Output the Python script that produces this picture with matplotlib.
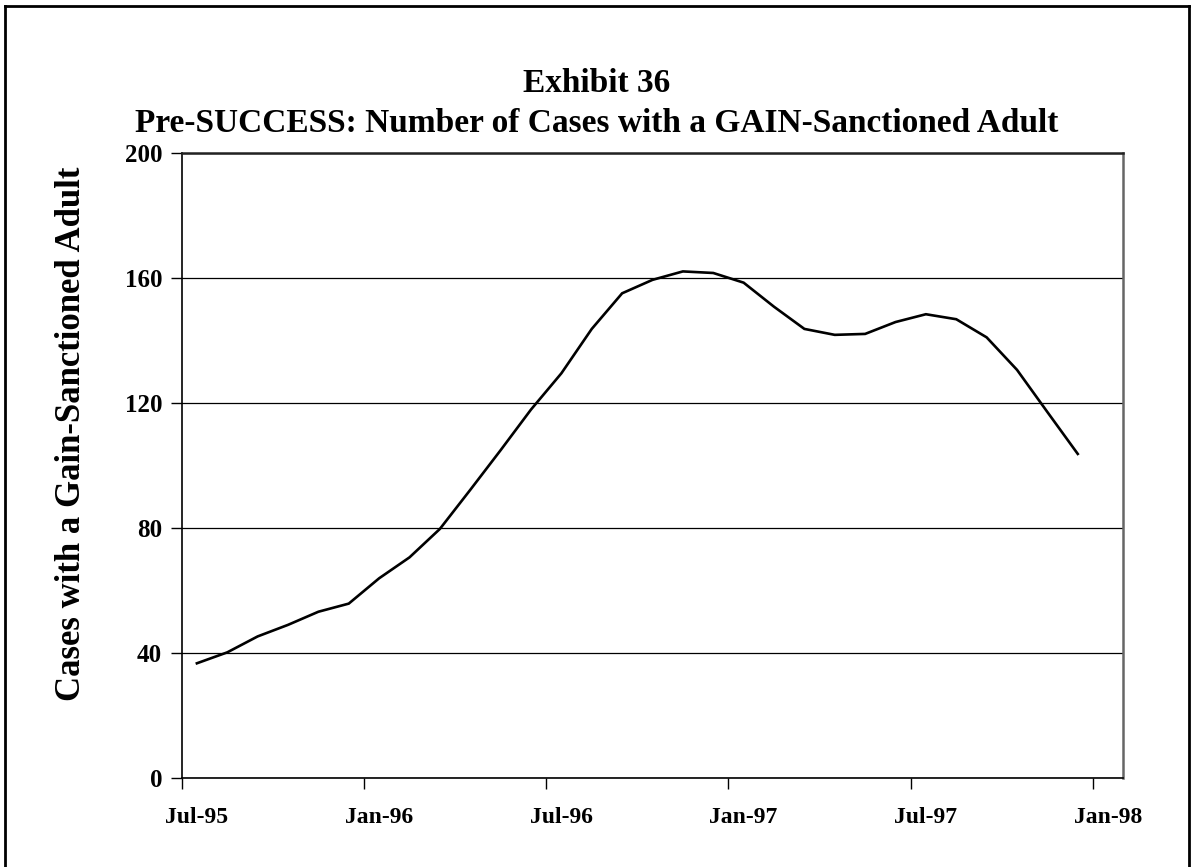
import matplotlib
matplotlib.use("Agg")
import matplotlib.pyplot as plt
from matplotlib.lines import Line2D

months = ["Jul-95", "Aug-95", "Sep-95", "Oct-95", "Nov-95", "Dec-95",
          "Jan-96", "Feb-96", "Mar-96", "Apr-96", "May-96", "Jun-96",
          "Jul-96", "Aug-96", "Sep-96", "Oct-96", "Nov-96", "Dec-96",
          "Jan-97", "Feb-97", "Mar-97", "Apr-97", "May-97", "Jun-97",
          "Jul-97", "Aug-97", "Sep-97", "Oct-97", "Nov-97", "Dec-97"]
cases = [36.8, 40.3, 45.4, 49.1, 53.3, 55.9,
         64.0, 70.7, 79.8, 92.3, 105.0, 118.0,
         129.6, 143.8, 155.2, 159.5, 162.2, 161.7,
         158.6, 150.9, 143.8, 141.9, 142.2, 146.0,
         148.5, 146.9, 141.1, 130.7, 117.2, 103.8]
tick_labels = ["Jul-95", "Jan-96", "Jul-96", "Jan-97", "Jul-97", "Jan-98"]
y_ticks = [0, 40, 80, 120, 160, 200]

plt.rcParams['font.family'] = ['Liberation Serif', 'DejaVu Serif']
plt.rcParams['font.weight'] = 'bold'

fig = plt.figure(figsize=(11.93, 8.67), dpi=100)
ax = fig.add_axes([0.1523, 0.1023, 0.7893, 0.7209])

# Data at month centres (Excel date axis style)
x = [i + 0.5 for i in range(len(cases))]
ax.plot(x, cases, color='black', lw=1.9, solid_joinstyle='miter')

ax.set_xlim(0, 31)
ax.set_ylim(0, 200)

ax.set_yticks(y_ticks)
ax.set_yticklabels([str(v) for v in y_ticks], fontsize=18, fontweight='bold')
ax.yaxis.grid(True, color='black', lw=0.9)
ax.set_axisbelow(True)

# Major ticks at month boundaries (marks only), labels at month centres
tick_pos = [6 * i for i in range(len(tick_labels))]
ax.set_xticks(tick_pos)
ax.set_xticklabels([""] * len(tick_pos))
ax.set_xticks([p + 0.5 for p in tick_pos], minor=True)
ax.set_xticklabels(tick_labels, minor=True, fontsize=17, fontweight='bold')

ax.tick_params(axis='both', which='major', direction='out', length=8, width=1, color='black')
ax.tick_params(axis='x', which='minor', length=0, pad=21)
ax.tick_params(axis='y', pad=6)

ax.spines['left'].set_color('black')
ax.spines['left'].set_linewidth(1.2)
ax.spines['bottom'].set_color('black')
ax.spines['bottom'].set_linewidth(1.2)
ax.spines['top'].set_color('#222222')
ax.spines['top'].set_linewidth(1.8)
ax.spines['right'].set_color('#666666')
ax.spines['right'].set_linewidth(1.8)

ax.set_ylabel("Cases with a Gain-Sanctioned Adult", fontsize=25, fontweight='bold')
ax.yaxis.set_label_coords(-0.0995, 0.551)

fig.text(0.5, 1 - 83 / 867, "Exhibit 36", ha='center', va='center', fontsize=24, fontweight='bold')
fig.text(0.5, 1 - 123 / 867, "Pre-SUCCESS: Number of Cases with a GAIN-Sanctioned Adult",
         ha='center', va='center', fontsize=24, fontweight='bold')

# Outer frame (left, top, right)
W, H = 1193, 867
fx = lambda px: px / W
fy = lambda py: 1 - py / H
fig.add_artist(Line2D([fx(5), fx(5)], [fy(6), 0], transform=fig.transFigure, color='black', lw=2))
fig.add_artist(Line2D([fx(5), fx(1189)], [fy(6), fy(6)], transform=fig.transFigure, color='black', lw=2))
fig.add_artist(Line2D([fx(1189), fx(1189)], [fy(6), 0], transform=fig.transFigure, color='black', lw=2))

fig.savefig("out.png", dpi=100)
